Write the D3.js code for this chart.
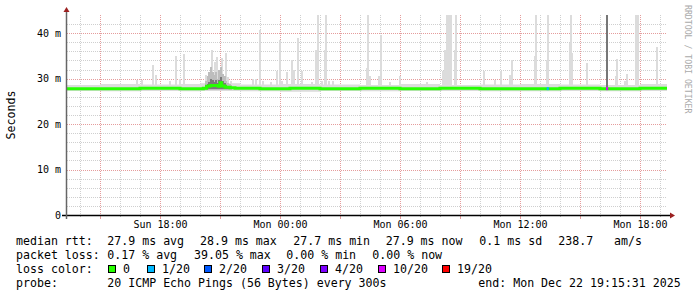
<!DOCTYPE html>
<html>
<head>
<meta charset="utf-8">
<script src="https://cdn.jsdelivr.net/npm/d3@7"></script>
<style>
  body { margin: 0; background: #fff; }
  text { font-family: "DejaVu Sans Mono", monospace; }
</style>
</head>
<body>
<svg id="chart"></svg>
<script>
// time window of the graph (local time, Dec 2025)
const startTime = "21 13:21";
const endTime = "22 19:21";

// smoke: background band of the 20 pings
const bandTimes = ["21 13:21", "21 15:00", "21 17:00", "21 19:00", "21 20:00", "21 22:00", "22 00:00", "22 02:00", "22 04:00",
  "22 06:00", "22 08:00", "22 10:00", "22 12:00", "22 14:00", "22 16:00", "22 18:00", "22 19:21"];
const bandHigh = [28.6, 28.8, 28.7, 28.8, 29.0, 28.7, 28.8, 28.7, 28.6, 28.8, 28.6, 28.7, 28.8, 28.7, 28.6, 28.8, 28.8];
const bandLow = [27.3, 27.2, 27.3, 27.2, 27.3, 27.2, 27.1, 27.3, 27.2, 27.3, 27.3, 27.2, 27.2, 27.3, 27.2, 27.3, 27.3];

// smoke spikes (max ping of a 5 min sample), ms
const spikeTimes = ["21 16:48", "21 17:03", "21 17:36", "21 17:44", "21 18:26", "21 18:44", "21 18:56", "21 19:08",
  "21 20:15", "21 20:25", "21 20:34", "21 20:41", "21 20:48", "21 20:56", "21 21:04", "21 21:14", "21 21:21", "21 21:30",
  "21 22:36", "21 22:44", "21 22:56", "21 23:06", "21 23:30", "21 23:48", "21 23:56",
  "22 00:03", "22 00:18", "22 00:33", "22 00:38", "22 00:50", "22 01:03", "22 01:33", "22 01:46", "22 01:50",
  "22 02:03", "22 02:11", "22 02:16", "22 02:24", "22 02:36", "22 04:18", "22 04:21", "22 04:28", "22 04:53",
  "22 05:00", "22 05:28", "22 05:56", "22 07:18", "22 08:06", "22 08:13", "22 08:18", "22 08:24", "22 08:30",
  "22 08:43", "22 08:46", "22 10:09", "22 10:41", "22 11:01", "22 11:27", "22 11:32", "22 12:42", "22 12:46",
  "22 13:17", "22 13:21", "22 14:27", "22 14:31", "22 14:34", "22 15:19", "22 16:18", "22 16:44", "22 16:47",
  "22 17:12", "22 17:17", "22 17:45", "22 17:50", "22 18:49"];
const spikeMax = [29.7, 29.7, 33.0, 30.8, 29.5, 35.0, 30.0, 35.4,
  30.8, 31.5, 36.4, 33.7, 34.8, 31.9, 34.5, 35.6, 30.4, 29.5,
  30.0, 30.0, 40.7, 29.5, 29.3, 31.7, 38.5,
  29.5, 31.5, 34.1, 31.8, 38.9, 31.6, 29.3, 36.4, 44,
  29.5, 36.2, 44, 29.5, 29.5, 32.3, 44, 30.5, 30.5,
  39.6, 29.3, 30.5, 29.3, 31.6, 36.2, 44, 44, 44,
  36.4, 44, 31.6, 29.7, 31.6, 30.8, 34.1, 35.0, 44,
  34.0, 44, 37.8, 44, 35.6, 33.5, 44, 30.5, 34.3,
  29.5, 31.0, 44, 44, 37.0];

// denser smoke during the evening disturbance
const coreTimes = ["21 20:15", "21 20:20", "21 20:25", "21 20:30", "21 20:35", "21 20:40", "21 20:45", "21 20:50",
  "21 20:55", "21 21:00", "21 21:05", "21 21:10", "21 21:15", "21 21:20", "21 21:25", "21 21:30"];
const coreMid = [29.5, 30.5, 31.5, 32.5, 31.5, 30.8, 31.5, 30.0, 31.8, 32.5, 31.0, 30.5, 29.5, 29.0, 28.8, 28.6];
const coreDark = [28.6, 28.9, 29.3, 30.0, 29.6, 29.2, 29.6, 29.0, 29.8, 30.4, 29.4, 29.1, 28.7, 28.4, 28.2, 28.1];

// median rtt, ms
const medianTimes = ["21 13:21", "21 15:00", "21 17:00", "21 19:00", "21 20:10", "21 20:20", "21 20:30", "21 20:45",
  "21 20:55", "21 21:00", "21 21:05", "21 21:15", "21 21:30", "21 21:45", "21 23:00", "22 00:30", "22 02:00",
  "22 04:00", "22 06:00", "22 08:00", "22 10:00", "22 12:00", "22 14:00", "22 16:00", "22 18:00", "22 19:21"];
const medianMs = [27.8, 27.8, 27.9, 27.8, 27.9, 28.3, 28.5, 28.5, 28.3, 29.1, 28.4, 28.1, 28.0, 27.9, 27.8, 27.9, 27.8,
  27.9, 27.8, 27.9, 27.8, 27.8, 27.9, 27.8, 27.9, 27.9];

// samples with packet loss (pings lost out of 20)
const lossTimes = ["22 13:20", "22 16:18"];
const lossCount = [1, 10];

const lossLevels = [0, 1, 2, 3, 4, 10, 19];
const lossColors = ["#26ff00", "#00b8ff", "#0059ff", "#5e00ff", "#7e00ff", "#dd00ff", "#ff0000"];
const yTicks = [0, 10, 20, 30, 40];

const legendRtt = ["27.9 ms avg", "28.9 ms max", "27.7 ms min", "27.9 ms now", "0.1 ms sd", "238.7", "am/s"];
const legendLoss = ["0.17 % avg", "39.05 % max", "0.00 % min", "0.00 % now"];
const probeText = "20 ICMP Echo Pings (56 Bytes) every 300s";
const endText = "end: Mon Dec 22 19:15:31 2025";

const width = 697, height = 297;
const plot = { left: 67, right: 667, top: 15, bottom: 215 };
const step = 300 * 1000;

const parse = s => d3.timeParse("%Y-%m-%d %H:%M")("2025-12-" + s);

const svg = d3.select("#chart").attr("width", width).attr("height", height);

const x = d3.scaleTime()
  .domain([parse(startTime), parse(endTime)])
  .range([plot.left, plot.right]);
const y = d3.scaleLinear()
  .domain([0, 44])
  .range([plot.bottom, plot.top]);
const lossColor = d3.scaleThreshold().domain(lossLevels.slice(1)).range(lossColors);

// grid
const grid = svg.append("g").attr("shape-rendering", "crispEdges");
d3.range(2, 44, 2).forEach(v => {
  grid.append("line")
    .attr("x1", plot.left).attr("x2", plot.right)
    .attr("y1", Math.round(y(v)) + 0.5).attr("y2", Math.round(y(v)) + 0.5)
    .attr("stroke", v % 10 === 0 ? "#e59c9c" : "#cfcfcf")
    .attr("stroke-dasharray", "1,1");
});
const hours = d3.timeHour.range(x.domain()[0], x.domain()[1]);
hours.forEach(h => {
  const major = h.getHours() % 3 === 0;
  const px = Math.round(x(h)) + 0.5;
  grid.append("line")
    .attr("x1", px).attr("x2", px)
    .attr("y1", plot.top).attr("y2", plot.bottom)
    .attr("stroke", major ? "#e59c9c" : "#cfcfcf")
    .attr("stroke-dasharray", "1,1");
  grid.append("line")
    .attr("x1", px).attr("x2", px)
    .attr("y1", plot.bottom).attr("y2", plot.bottom + (major ? 4 : 2))
    .attr("stroke", major ? "#e59c9c" : "#bbbbbb");
});

// smoke band
const band = bandTimes.map((t, i) => ({ t: parse(t), lo: bandLow[i], hi: bandHigh[i] }));
svg.append("path")
  .datum(band)
  .attr("fill", "#dcdcdc")
  .attr("d", d3.area().curve(d3.curveStepAfter)
    .x(d => x(d.t)).y0(d => y(d.lo)).y1(d => y(d.hi)));

// spikes
const lossAt = t => {
  const i = lossTimes.findIndex(s => Math.abs(parse(s) - t) < step);
  return i < 0 ? 0 : lossCount[i];
};
const spikes = spikeTimes.map((t, i) => ({ t: parse(t), v: spikeMax[i] }));
svg.append("g").attr("shape-rendering", "crispEdges")
  .selectAll("rect")
  .data(spikes)
  .join("rect")
    .attr("x", d => x(d.t))
    .attr("width", d => Math.max(2, x(new Date(+d.t + step)) - x(d.t)))
    .attr("y", d => y(d.v))
    .attr("height", d => y(27.4) - y(d.v))
    .attr("fill", d => lossAt(d.t) >= 10 ? "#777777" : "#dcdcdc");

// denser smoke
const core = coreTimes.map((t, i) => ({ t: parse(t), mid: coreMid[i], dark: coreDark[i] }));
const coreG = svg.append("g").attr("shape-rendering", "crispEdges");
coreG.selectAll("rect.mid")
  .data(core)
  .join("rect")
    .attr("class", "mid")
    .attr("x", d => x(d.t))
    .attr("width", d => x(new Date(+d.t + step)) - x(d.t) + 0.5)
    .attr("y", d => y(d.mid))
    .attr("height", d => y(27.6) - y(d.mid))
    .attr("fill", "#bdbdbd");
coreG.selectAll("rect.dark")
  .data(core)
  .join("rect")
    .attr("class", "dark")
    .attr("x", d => x(d.t))
    .attr("width", d => x(new Date(+d.t + step)) - x(d.t) + 0.5)
    .attr("y", d => y(d.dark))
    .attr("height", d => y(27.7) - y(d.dark))
    .attr("fill", "#7a7a7a");

// median line
const median = medianTimes.map((t, i) => ({ t: parse(t), v: medianMs[i] }));
svg.append("path")
  .datum(median)
  .attr("fill", "none")
  .attr("stroke", lossColors[0])
  .attr("stroke-width", 3)
  .attr("d", d3.line().curve(d3.curveStepAfter).x(d => x(d.t)).y(d => y(d.v)));

const medianAt = t => {
  let v = medianMs[0];
  median.forEach(d => { if (d.t <= t) v = d.v; });
  return v;
};
svg.append("g")
  .selectAll("rect")
  .data(lossTimes.map((t, i) => ({ t: parse(t), n: lossCount[i] })))
  .join("rect")
    .attr("x", d => x(d.t))
    .attr("width", d => x(new Date(+d.t + step)) - x(d.t) + 0.5)
    .attr("y", d => y(medianAt(d.t)) - 1.5)
    .attr("height", 3)
    .attr("fill", d => lossColor(d.n));

// axes
const xAxis = d3.axisBottom(x)
  .tickValues(hours.filter(h => h.getHours() % 6 === 0))
  .tickFormat(d3.timeFormat("%a %H:%M"))
  .tickSize(0)
  .tickPadding(6);
svg.append("g")
  .attr("transform", `translate(0,${plot.bottom})`)
  .call(xAxis)
  .call(g => g.select(".domain").remove())
  .call(g => g.selectAll("text").attr("font-size", 10).attr("font-family", "DejaVu Sans Mono").attr("fill", "#000"));

const yAxis = d3.axisLeft(y)
  .tickValues(yTicks)
  .tickFormat(v => v === 0 ? "0" : v + " m")
  .tickSize(0)
  .tickPadding(6);
svg.append("g")
  .attr("transform", `translate(${plot.left},0)`)
  .call(yAxis)
  .call(g => g.select(".domain").remove())
  .call(g => g.selectAll("text").attr("font-size", 10).attr("font-family", "DejaVu Sans Mono").attr("fill", "#000"));

svg.append("line")
  .attr("x1", plot.left - 5).attr("x2", plot.right + 4)
  .attr("y1", plot.bottom + 0.5).attr("y2", plot.bottom + 0.5)
  .attr("stroke", "#000").attr("stroke-width", 1.5);
svg.append("line")
  .attr("x1", plot.left - 0.5).attr("x2", plot.left - 0.5)
  .attr("y1", plot.bottom + 4).attr("y2", 11)
  .attr("stroke", "#666").attr("stroke-width", 1.5);
svg.append("path")
  .attr("d", `M${plot.left - 3.5},12 L${plot.left - 0.5},7 L${plot.left + 2.5},12 Z`)
  .attr("fill", "#9b2020");
svg.append("path")
  .attr("d", `M${plot.right + 3},${plot.bottom - 2.5} L${plot.right + 8},${plot.bottom + 0.5} L${plot.right + 3},${plot.bottom + 3.5} Z`)
  .attr("fill", "#9b2020");

// titles
svg.append("text")
  .attr("transform", "translate(15,115) rotate(-90)")
  .attr("text-anchor", "middle")
  .attr("font-size", 11.6)
  .text("Seconds");
svg.append("text")
  .attr("transform", "translate(685,5) rotate(90)")
  .attr("font-size", 8.2)
  .attr("fill", "#aaaaaa")
  .text("RRDTOOL / TOBI OETIKER");

// legend
const legend = svg.append("g").attr("font-size", 11.6).attr("fill", "#000");
const row = (yy, label, items, xs) => {
  legend.append("text").attr("x", 16).attr("y", yy).attr("xml:space", "preserve").text(label);
  items.forEach((s, i) => legend.append("text").attr("x", xs[i]).attr("y", yy).attr("xml:space", "preserve").text(s));
};
row(245, "median rtt:", legendRtt, [107.3, 200, 293.3, 385.7, 479.3, 558.3, 614]);
row(259, "packet loss:", legendLoss, [107.3, 194, 286.3, 372.3]);
row(287, "probe:", [probeText, endText], [107.3, 478.3]);

legend.append("text").attr("x", 16).attr("y", 273).text("loss color:");
const boxX = [108, 147, 204, 262, 320, 378, 442];
const lossLabels = lossLevels.map(n => n === 0 ? "0" : n + "/20");
lossLevels.forEach((n, i) => {
  legend.append("rect")
    .attr("x", boxX[i] + 0.5).attr("y", 265.5)
    .attr("width", 7).attr("height", 7)
    .attr("fill", lossColor(n))
    .attr("stroke", "#000").attr("stroke-width", 1);
  legend.append("text").attr("x", boxX[i] + 15).attr("y", 273).text(lossLabels[i]);
});
</script>
</body>
</html>
